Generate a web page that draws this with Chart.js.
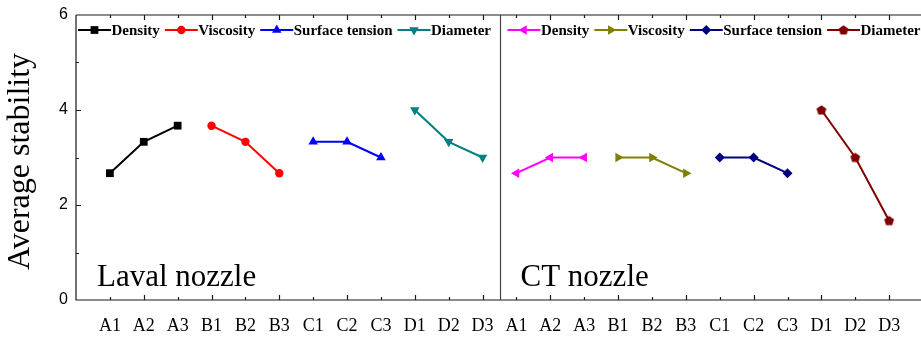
<!DOCTYPE html>
<html>
<head>
<meta charset="utf-8">
<script src="https://cdn.jsdelivr.net/npm/chart.js@4/dist/chart.umd.min.js"></script>
<style>
  body { margin: 0; background: #fff; }
  #wrap { width: 921px; height: 338px; }
</style>
</head>
<body>
<div id="wrap"><canvas id="stability" width="921" height="338"></canvas></div>
<script>
(() => {
  'use strict'

  // factor levels, repeated for each nozzle
  const levels = ['A1', 'A2', 'A3', 'B1', 'B2', 'B3', 'C1', 'C2', 'C3', 'D1', 'D2', 'D3']
  const tickLabels = levels.concat(levels)
  const seriesNames = ['Density', 'Viscosity', 'Surface tension', 'Diameter']
  const nozzleNames = ['Laval nozzle', 'CT nozzle']

  // average stability per level
  const lavalDensity = [2.67, 3.33, 3.67]
  const lavalViscosity = [3.67, 3.33, 2.67]
  const lavalSurface = [3.33, 3.33, 3.0]
  const lavalDiameter = [4.0, 3.33, 3.0]
  const ctDensity = [2.67, 3.0, 3.0]
  const ctViscosity = [3.0, 3.0, 2.67]
  const ctSurface = [3.0, 3.0, 2.67]
  const ctDiameter = [4.0, 3.0, 1.67]

  const yTicks = [0, 2, 4, 6]

  // pentagon marker, no built-in style for it
  const pentagon = document.createElement('canvas')
  pentagon.width = 12
  pentagon.height = 12
  const pc = pentagon.getContext('2d')
  pc.fillStyle = '#800000'
  pc.beginPath()
  for (let k = 0; k < 5; k++) {
    const a = -Math.PI / 2 + k * 2 * Math.PI / 5
    const px = 6 + 5.2 * Math.cos(a)
    const py = 6.4 + 5.2 * Math.sin(a)
    if (k === 0) pc.moveTo(px, py); else pc.lineTo(px, py)
  }
  pc.closePath()
  pc.fill()

  const looks = [
    [
      { color: '#000000', style: 'rect', rot: 0, r: 5.5 },
      { color: '#ff0000', style: 'circle', rot: 0, r: 4.2 },
      { color: '#0000ff', style: 'triangle', rot: 0, r: 5.5 },
      { color: '#008080', style: 'triangle', rot: 180, r: 5.5 }
    ],
    [
      { color: '#ff00ff', style: 'triangle', rot: 270, r: 5.5 },
      { color: '#808000', style: 'triangle', rot: 90, r: 5.5 },
      { color: '#000080', style: 'rectRot', rot: 0, r: 5 },
      { color: '#800000', style: pentagon, rot: 0, r: 5 }
    ]
  ]

  const values = [
    [lavalDensity, lavalViscosity, lavalSurface, lavalDiameter],
    [ctDensity, ctViscosity, ctSurface, ctDiameter]
  ]

  const datasets = []
  values.forEach((group, n) => {
    group.forEach((vals, s) => {
      const lk = looks[n][s]
      datasets.push({
        label: seriesNames[s],
        data: vals.map((v, j) => ({ x: n * 12 + s * 3 + j + 1, y: v })),
        borderColor: lk.color,
        backgroundColor: lk.color,
        borderWidth: 2,
        pointStyle: lk.style,
        pointRotation: lk.rot,
        pointRadius: lk.r,
        pointBorderWidth: 0,
        tension: 0
      })
    })
  })

  const frame = {
    id: 'frame',
    afterDraw(chart) {
      const { ctx, chartArea: a, scales } = chart
      const xs = scales.x
      const ys = scales.y
      ctx.save()
      ctx.strokeStyle = '#1a1a1a'
      ctx.lineWidth = 1.2
      ctx.beginPath()
      ctx.moveTo(a.left, a.top)
      ctx.lineTo(a.right, a.top)
      ctx.moveTo(a.left, a.top)
      ctx.lineTo(a.left, a.bottom)
      ctx.lineTo(a.right, a.bottom)
      for (let i = 1; i <= 24; i++) {
        const px = Math.round(xs.getPixelForValue(i)) + 0.5
        const len = i % 2 === 0 ? 5 : 3
        ctx.moveTo(px, a.bottom)
        ctx.lineTo(px, a.bottom - len)
        ctx.moveTo(px, a.top)
        ctx.lineTo(px, a.top + len)
      }
      for (let v = 1; v < 6; v++) {
        const py = Math.round(ys.getPixelForValue(v)) + 0.5
        const len = v % 2 === 0 ? 5 : 3
        ctx.moveTo(a.left, py)
        ctx.lineTo(a.left + len, py)
      }
      ctx.stroke()

      // divider between the two nozzles
      const mid = Math.round(xs.getPixelForValue(12.5)) + 0.5
      ctx.strokeStyle = '#444'
      ctx.lineWidth = 1.2
      ctx.beginPath()
      ctx.moveTo(mid, a.top)
      ctx.lineTo(mid, a.bottom)
      ctx.stroke()

      // y title
      ctx.fillStyle = '#000'
      ctx.font = '32px "Liberation Serif"'
      ctx.textAlign = 'center'
      ctx.textBaseline = 'alphabetic'
      ctx.save()
      ctx.translate(29, (a.top + a.bottom) / 2 + 4)
      ctx.rotate(-Math.PI / 2)
      ctx.fillText('Average stability', 0, 0)
      ctx.restore()

      // nozzle names
      ctx.font = '31px "Liberation Serif"'
      ctx.textAlign = 'left'
      ctx.fillText(nozzleNames[0], a.left + 21, a.bottom - 14)
      ctx.fillText(nozzleNames[1], mid + 20, a.bottom - 14)

      // legends: line with marker, bold label
      ctx.font = 'bold 15px "Liberation Serif"'
      const starts = [a.left + 2, mid + 7]
      starts.forEach((x0, n) => {
        let x = x0
        const y = a.top + 15
        looks[n].forEach((lk, s) => {
          ctx.strokeStyle = lk.color
          ctx.fillStyle = lk.color
          ctx.lineWidth = 2
          ctx.beginPath()
          ctx.moveTo(x, y)
          ctx.lineTo(x + 33, y)
          ctx.stroke()
          Chart.helpers.drawPoint(ctx, {
            pointStyle: lk.style, rotation: lk.rot, radius: lk.r, borderWidth: 0
          }, x + 16.5, y)
          ctx.fillStyle = '#000'
          ctx.fillText(seriesNames[s], x + 33.5, y + 5)
          x += 33.5 + ctx.measureText(seriesNames[s]).width + 5
        })
      })
      ctx.restore()
    }
  }

  const ctx = document.getElementById('stability')

  new Chart(ctx, {
    type: 'line',
    data: { datasets },
    options: {
      responsive: false,
      animation: false,
      layout: { autoPadding: false, padding: { top: 15, left: 0, right: 0, bottom: 0 } },
      plugins: {
        legend: { display: false },
        tooltip: { enabled: false }
      },
      scales: {
        x: {
          type: 'linear',
          min: 0,
          max: 24.94,
          grid: { display: false, drawTicks: false },
          border: { display: false },
          afterFit: (scale) => { scale.height = 38; scale.paddingRight = 0; scale.paddingLeft = 0 },
          afterBuildTicks: (scale) => { scale.ticks = tickLabels.map((t, i) => ({ value: i + 1 })) },
          ticks: {
            autoSkip: false,
            maxRotation: 0,
            padding: 15,
            color: '#000',
            font: { family: 'Liberation Serif', size: 18 },
            callback: (v) => tickLabels[Math.round(v) - 1] || ''
          }
        },
        y: {
          min: 0,
          max: 6,
          grid: { display: false, drawTicks: false },
          border: { display: false },
          afterFit: (scale) => { scale.width = 76; scale.paddingTop = 0; scale.paddingBottom = 0 },
          afterBuildTicks: (scale) => { scale.ticks = yTicks.map(v => ({ value: v })) },
          ticks: {
            padding: 8,
            color: '#000',
            font: { family: 'Liberation Sans', size: 16 }
          }
        }
      }
    },
    plugins: [frame]
  })
})()
</script>
</body>
</html>
